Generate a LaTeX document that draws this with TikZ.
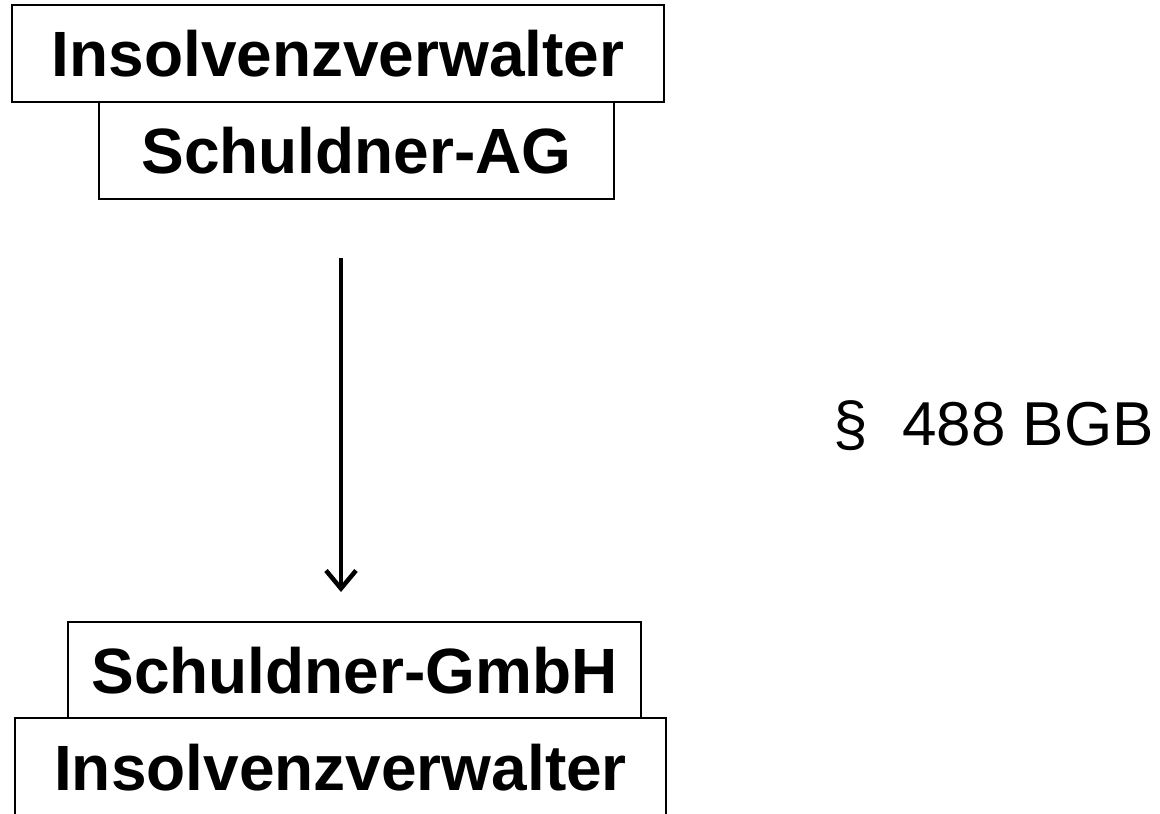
\documentclass[tikz,border=0pt]{standalone}
\usepackage{fontspec}
\setmainfont{Liberation Sans}
\usetikzlibrary{arrows.meta}
\begin{document}
\begin{tikzpicture}[x=1pt,y=-1pt,
  box/.style={draw,line width=2pt,inner sep=0pt,text height=46pt,text depth=0pt,
    font=\fontsize{64}{76}\selectfont\bfseries},
  lbl/.style={inner sep=0pt,font=\fontsize{62}{74}\selectfont},
  arr/.style={line width=4.5pt,-{Straight Barb[length=18pt,width=30pt,line width=4.5pt]}}]
\useasboundingbox (0,0) rectangle (1160,814);
\clip (0,0) rectangle (1160,814);
\node[box,minimum width=652pt,minimum height=97pt] (iv1) at (338,53.5) {Insolvenzverwalter};
\node[box,minimum width=515pt,minimum height=97pt] (ag) at (356.5,150.5) {Schuldner-AG};
\node[box,minimum width=573pt,minimum height=96pt] (gmbh) at (354.5,670) {Schuldner-GmbH};
\node[box,minimum width=651pt,minimum height=98pt] (iv2) at (340.5,767) {Insolvenzverwalter};
\node[lbl,anchor=base west] (bgb) at (833,445) {§\ \ 488 BGB};
\coordinate (a1) at (341,258);
\coordinate (a2) at (341,592);
\draw[arr] (a1) -- (a2);
\end{tikzpicture}
\end{document}
